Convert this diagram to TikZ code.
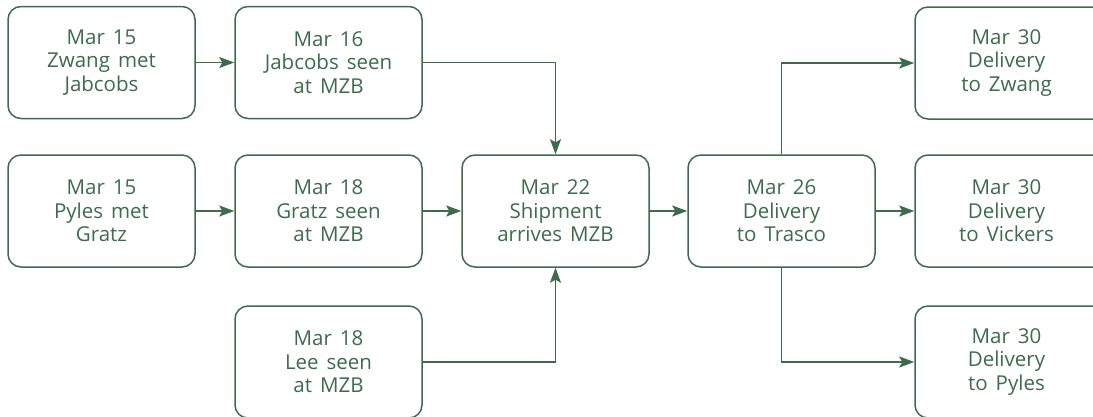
\documentclass[tikz,border=0pt]{standalone}
\usepackage{fontspec}
\setmainfont{Open Sans}[WordSpace=1.5]
\usetikzlibrary{arrows.meta}
\definecolor{gr}{HTML}{3D6B4C}
\begin{document}
\begin{tikzpicture}[x=1pt,y=-1pt,
  box/.style={draw=gr,line width=1.5pt,rounded corners=13pt,minimum width=187pt,minimum height=112pt,
    align=center,text=gr,font=\fontsize{20.5}{23.5}\selectfont,inner sep=0pt},
  rbox/.style={box,minimum width=192pt,text width=172pt,align=left,xshift=0pt},
  arr/.style={draw=gr,line width=1.5pt,-{Stealth[length=15pt,width=11pt,inset=3pt]}}]
\useasboundingbox (0,0) rectangle (1093,416);
\node[box] (a) at (101.5,62.5) {Mar 15\\Zwang met\\Jabcobs};
\node[box] (b) at (328.5,62.5) {Mar 16\\Jabcobs seen\\at MZB};
\node[box] (c) at (101.5,211) {Mar 15\\Pyles met\\Gratz};
\node[box] (d) at (328.5,211) {Mar 18\\Gratz seen\\at MZB};
\node[box] (e) at (555.5,211) {Mar 22\\Shipment\\arrives MZB};
\node[box] (f) at (781.5,211) {Mar 26\\Delivery\\to Trasco};
\node[box] (g) at (328.5,362) {Mar 18\\Lee seen\\at MZB};
\node[box,minimum width=192pt] (h) at (1011,63) {\hspace*{-9pt}Mar 30\\\hspace*{-9pt}Delivery\\\hspace*{-9pt}to Zwang};
\node[box,minimum width=192pt] (i) at (1011,211) {\hspace*{-9pt}Mar 30\\\hspace*{-9pt}Delivery\\\hspace*{-9pt}to Vickers};
\node[box,minimum width=192pt] (j) at (1011,362) {\hspace*{-9pt}Mar 30\\\hspace*{-9pt}Delivery\\\hspace*{-9pt}to Pyles};
\draw[arr] (a) -- (b);
\draw[arr] (c) -- (d);
\draw[arr] (d) -- (e);
\draw[arr] (e) -- (f);
\draw[arr] (f) -- (i);
\draw[arr] (b.east) -| (e.north);
\draw[arr] (g.east) -| (e.south);
\draw[arr] (f.north) |- (h.west);
\draw[arr] (f.south) |- (j.west);
\end{tikzpicture}
\end{document}
